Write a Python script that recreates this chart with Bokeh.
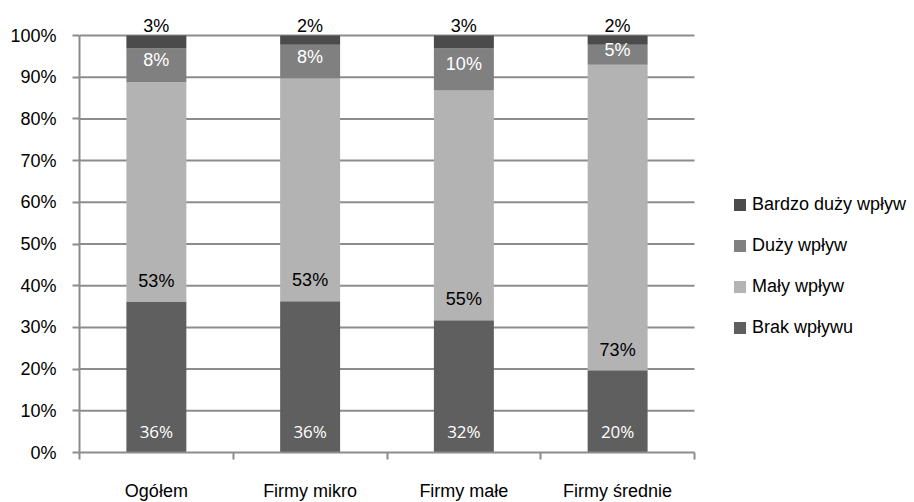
from bokeh.plotting import figure
from bokeh.models import (ColumnDataSource, LabelSet, Legend, LegendItem, FixedTicker,
                          PrintfTickFormatter, CustomJSTickFormatter, Range1d)
from bokeh.core.properties import value
from bokeh.embed import file_html
from bokeh.resources import INLINE

categories = ["Ogółem", "Firmy mikro", "Firmy małe", "Firmy średnie"]
series_names = ["Brak wpływu", "Mały wpływ", "Duży wpływ", "Bardzo duży wpływ"]
brak = [36.2, 36.3, 31.7, 19.7]
maly = [52.6, 53.4, 55.1, 73.3]
duzy = [8.1, 8.1, 10.1, 4.8]
bardzo = [3.1, 2.2, 3.1, 2.2]
colors = ["#5f5f5f", "#b3b3b3", "#808080", "#4b4b4b"]
y_ticks = list(range(0, 101, 10))

series_values = [brak, maly, duzy, bardzo]
n = len(categories)
xs = [i + 0.5 for i in range(n)]

FONT = "Liberation Sans"
GRID = "#8c8c8c"

# frame: 153.75 px per category, 4.17 px per percent
FW, FH = 833, 442
p = figure(frame_width=FW, frame_height=FH, output_backend="svg", toolbar_location=None,
           x_range=Range1d(0, FW / 153.75), y_range=Range1d(0, 100 + 25 / 4.17),
           min_border_left=79, min_border_right=0, min_border_top=10, min_border_bottom=48)
p.outline_line_color = None
p.background_fill_color = "white"
p.border_fill_color = "white"

# horizontal grid lines across the category area
gy = y_ticks[1:]
p.segment(x0=[0] * len(gy), x1=[n] * len(gy), y0=gy, y1=gy,
          line_color=GRID, line_width=2, level="underlay")

renderers = []
bottoms = [0.0] * n
label_specs = []
for k, (name, vals, col) in enumerate(zip(series_names, series_values, colors)):
    tops = [b + v for b, v in zip(bottoms, vals)]
    src = ColumnDataSource(dict(x=xs, bottom=list(bottoms), top=tops))
    r = p.vbar(x="x", bottom="bottom", top="top", width=0.39, source=src,
               fill_color=col, line_color=None)
    renderers.append(r)
    texts = [f"{round(v)}%" for v in vals]
    if k in (0, 1):
        ly = [b + 5 for b in bottoms]
    elif k == 2:
        ly = [(b + t) / 2 + 1.2 for b, t in zip(bottoms, tops)]
    else:
        ly = [t + 2.2 for t in tops]
    label_specs.append((k, ly, texts))
    bottoms = tops

for k, ly, texts in label_specs:
    src = ColumnDataSource(dict(x=xs, y=ly, text=texts))
    if k == 0:
        font, size, color = "Open Sans", "17px", "white"
    elif k == 2:
        font, size, color = FONT, "18px", "white"
    else:
        font, size, color = FONT, "18px", "black"
    ls = LabelSet(x="x", y="y", text="text", source=src, text_align="center",
                  text_baseline="middle", text_font=value(font), text_font_size=size,
                  text_color=color)
    p.add_layout(ls)

# y axis
p.yaxis.bounds = (0, 100)
p.yaxis.ticker = FixedTicker(ticks=y_ticks, minor_ticks=[])
p.yaxis.formatter = PrintfTickFormatter(format="%d%%")
p.yaxis.axis_line_color = GRID
p.yaxis.axis_line_width = 2
p.yaxis.major_tick_line_color = GRID
p.yaxis.major_tick_line_width = 2
p.yaxis.major_tick_out = 7
p.yaxis.major_tick_in = 0
p.yaxis.major_label_standoff = 16
p.yaxis.major_label_text_font = FONT
p.yaxis.major_label_text_font_size = "18px"
p.yaxis.major_label_text_color = "black"

# x axis
p.xaxis.bounds = (0, n)
p.xaxis.ticker = FixedTicker(ticks=xs, minor_ticks=list(range(n + 1)))
p.xaxis.formatter = CustomJSTickFormatter(args=dict(cats=categories),
                                          code="return cats[Math.floor(tick)] || '';")
p.xaxis.axis_line_color = GRID
p.xaxis.axis_line_width = 2
p.xaxis.major_tick_out = 0
p.xaxis.major_tick_in = 0
p.xaxis.minor_tick_out = 7
p.xaxis.minor_tick_in = 0
p.xaxis.minor_tick_line_color = GRID
p.xaxis.minor_tick_line_width = 2
p.xaxis.major_label_standoff = 21
p.xaxis.major_label_text_font = FONT
p.xaxis.major_label_text_font_size = "18px"
p.xaxis.major_label_text_color = "black"

p.xgrid.visible = False
p.ygrid.visible = False

items = [LegendItem(label=series_names[i], renderers=[renderers[i]]) for i in (3, 2, 1, 0)]
legend = Legend(items=items, location=(653, 114), glyph_width=15, glyph_height=15,
                label_height=20, spacing=20, padding=0, margin=0, label_standoff=5,
                border_line_color=None, background_fill_alpha=0,
                label_text_font=FONT, label_text_font_size="18px", label_text_color="black")
p.add_layout(legend)

open("out.html", "w").write(file_html(p, INLINE))
